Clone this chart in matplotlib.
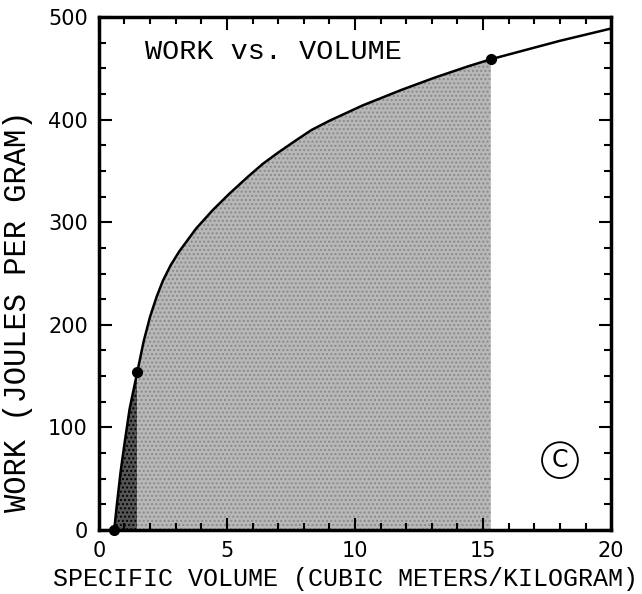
import matplotlib
matplotlib.use("Agg")
import matplotlib.pyplot as plt
import numpy as np
from matplotlib.ticker import MultipleLocator

# Work done during expansion vs. specific volume
volume = [0.6, 0.7, 0.85, 1.0, 1.2, 1.5, 1.75, 2.0, 2.25, 2.5, 2.8, 3.15,
          3.8, 4.45, 5.1, 5.8, 6.4, 7.0, 7.7, 8.3, 9.0, 10.3, 11.8, 13.1,
          14.4, 15.3, 16.5, 18.0, 19.0, 20.0]
work = [0, 24, 57, 84, 118, 154, 184, 208, 227, 243, 258, 272,
        294, 312, 328, 344, 357, 368, 380, 390, 399, 414, 429, 441,
        452, 459, 467, 477, 483, 489]

# Marked states along the path
mark_v = [0.6, 1.5, 15.3]
mark_w = [0, 154, 459]

v = np.array(volume)
w = np.array(work)

fig = plt.figure(figsize=(6.42, 5.94), dpi=100)
ax = fig.add_axes([0.154, 0.108, 0.798, 0.863])

mono = "Liberation Mono"

# shaded areas under the curve
m1 = (v >= mark_v[0]) & (v <= mark_v[1])
m2 = (v >= mark_v[1]) & (v <= mark_v[2])
ax.fill_between(v[m1], 0, w[m1], facecolor="#555555", edgecolor="none",
                hatch="....", linewidth=0, zorder=1)
ax.fill_between(v[m2], 0, w[m2], facecolor="#b8b8b8", edgecolor="#8a8a8a",
                hatch="....", linewidth=0, zorder=1)

ax.plot(v, w, color="black", lw=1.8, zorder=3, clip_on=False,
        solid_joinstyle="round")
ax.plot(mark_v, mark_w, "o", color="black", ms=7, zorder=4, clip_on=False)

ax.set_xlim(0, 20)
ax.set_ylim(0, 500)
ax.xaxis.set_major_locator(MultipleLocator(5))
ax.xaxis.set_minor_locator(MultipleLocator(1))
ax.yaxis.set_major_locator(MultipleLocator(100))
ax.yaxis.set_minor_locator(MultipleLocator(25))
ax.tick_params(which="both", direction="in", top=True, right=True,
               width=1.5, colors="black")
ax.tick_params(which="major", length=9, labelsize=15, pad=8)
ax.tick_params(which="minor", length=5)
for s in ax.spines.values():
    s.set_linewidth(2.5)

ax.set_xlabel("SPECIFIC VOLUME (CUBIC METERS/KILOGRAM)", family=mono,
              fontsize=18)
ax.xaxis.set_label_coords(0.481, -0.072)
ax.set_ylabel("WORK (JOULES PER GRAM)", family=mono, fontsize=22)
ax.yaxis.set_label_coords(-0.128, 0.427)

ax.text(1.8, 466, "WORK vs. VOLUME", family=mono, fontsize=20.5,
        va="center", ha="left")
ax.text(18.0, 68, "C", fontsize=17, ha="center", va="center",
        bbox=dict(boxstyle="circle,pad=0.25", fc="white", ec="black", lw=1.3))

fig.savefig("out.png", dpi=100)
